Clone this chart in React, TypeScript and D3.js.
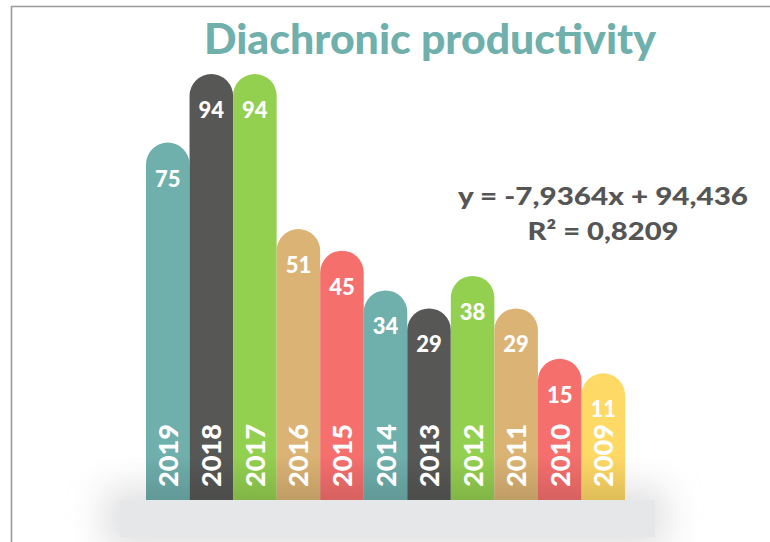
import React from "react";
import * as d3 from "d3";

const years = ["2019", "2018", "2017", "2016", "2015", "2014", "2013", "2012", "2011", "2010", "2009"];
const values = [75, 94, 94, 51, 45, 34, 29, 38, 29, 15, 11];
const colors = ["#6fafac", "#575756", "#94d050", "#dbb374", "#f56f6d", "#6fafac", "#575756", "#94d050", "#dbb374", "#f56f6d", "#ffd966"];
const title = "Diachronic productivity";
const equation = "y = -7,9364x + 94,436";
const rSquared = "R² = 0,8209";

const W = 770;
const H = 542;

export default function App() {
  const x = d3.scaleBand<string>().domain(years).range([146, 625]).padding(0);
  const y = d3.scaleLinear().domain([0, 94]).range([413, 74]);
  const bw = x.bandwidth();
  const r = bw / 2;
  const bottom = 502;
  const font = "Lato, 'Open Sans', sans-serif";

  const barPath = (yr: string, v: number) => {
    const x0 = x(yr)!;
    const x1 = x0 + bw;
    const top = y(v);
    const p = d3.path();
    p.moveTo(x0, bottom);
    p.lineTo(x0, top + r);
    p.arc(x0 + r, top + r, r, Math.PI, 0, false);
    p.lineTo(x1, bottom);
    p.closePath();
    return p.toString();
  };

  return (
    <svg width={W} height={H} style={{ position: "absolute", left: 0, top: 0, display: "block" }}>
      <defs>
        <filter id="blur" x="-50%" y="-50%" width="200%" height="200%">
          <feGaussianBlur stdDeviation="18" />
        </filter>
        <linearGradient id="barShade" x1="0" y1="0" x2="0" y2="1">
          <stop offset="0" stopColor="#000" stopOpacity="0" />
          <stop offset="1" stopColor="#000" stopOpacity="0.13" />
        </linearGradient>
      </defs>
      <rect x={0} y={0} width={W} height={H} fill="#fff" />
      <path d={`M11.5,${H} L11.5,6.5 L${W},6.5`} fill="none" stroke="#9a9a9a" strokeWidth={1.6} />
      <text x={430} y={54} textAnchor="middle" fill="#6fafac" fontFamily={font} fontWeight={900} fontSize={42} textLength={452} lengthAdjust="spacingAndGlyphs">
        {title}
      </text>
      <rect x={105} y={488} width={560} height={60} fill="#c4c4c4" filter="url(#blur)" opacity={0.55} />
      {years.map((yr, i) => (
        <path key={yr} d={barPath(yr, values[i])} fill={colors[i]} />
      ))}
      <rect x={146} y={455} width={479} height={46} fill="url(#barShade)" />
      {years.map((yr, i) => (
        <text key={"v" + yr} x={x(yr)! + r} y={y(values[i]) + 44} textAnchor="middle" fill="#fff" fontFamily={font} fontWeight={900} fontSize={22}>
          {values[i]}
        </text>
      ))}
      {years.map((yr) => (
        <text key={"y" + yr} transform={`translate(${x(yr)! + r + 10},487) rotate(-90)`} textAnchor="start" fill="#fff" fontFamily={font} fontWeight={900} fontSize={27} textLength={63} lengthAdjust="spacingAndGlyphs">
          {yr}
        </text>
      ))}
      <rect x={120} y={500} width={535} height={37} fill="#e6e7e9" />
      <text x={603} y={205} textAnchor="middle" fill="#555555" fontFamily={font} fontWeight={900} fontSize={24} textLength={290} lengthAdjust="spacingAndGlyphs">
        {equation}
      </text>
      <text x={603} y={240} textAnchor="middle" fill="#555555" fontFamily={font} fontWeight={900} fontSize={24} textLength={151} lengthAdjust="spacingAndGlyphs">
        {rSquared}
      </text>
    </svg>
  );
}
